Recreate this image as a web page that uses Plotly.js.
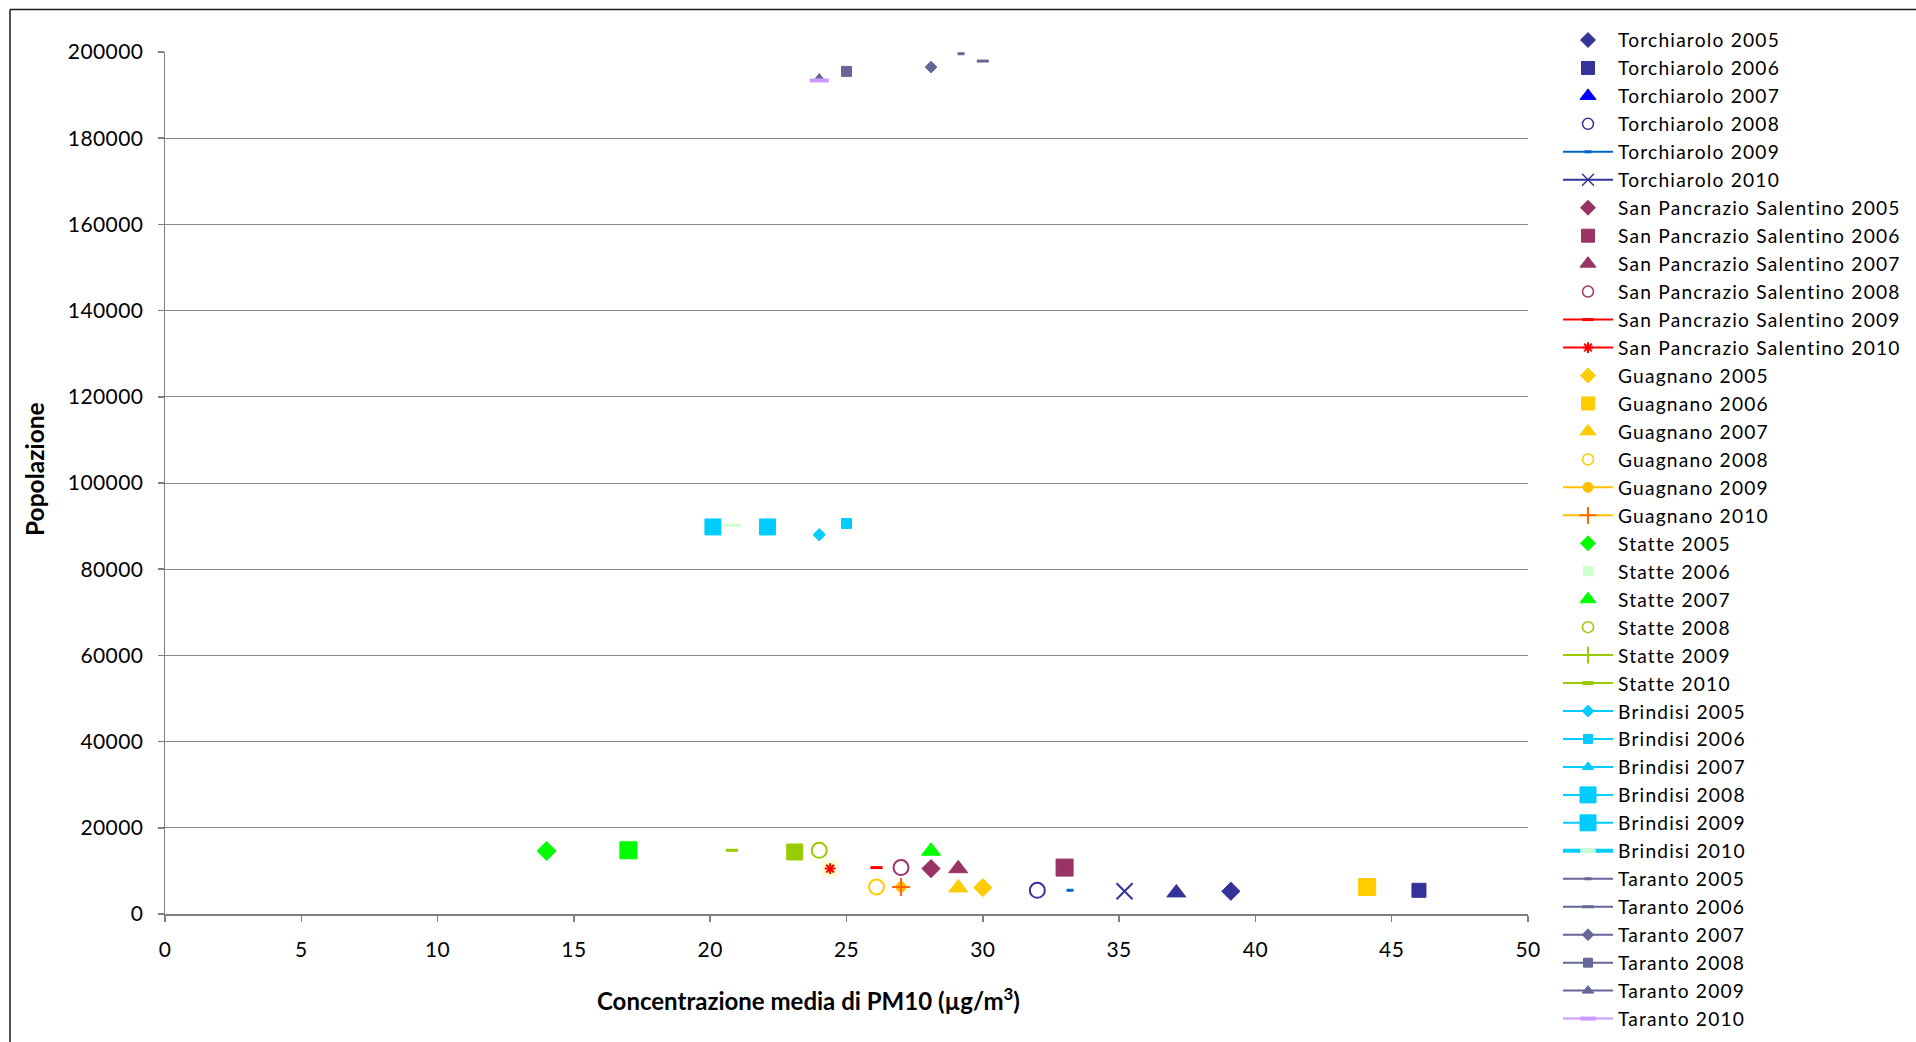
<!DOCTYPE html>
<html>
<head>
<meta charset="utf-8">
<script src="https://cdn.plot.ly/plotly-3.0.1.min.js"></script>
<style>
  html, body { margin: 0; padding: 0; background: #fff; }
  #chart { width: 1916px; height: 1042px; }
  #chart .legend .legendtext { letter-spacing: 1.2px; }
  #chart .legend .scrollbox { clip-path: none !important; }
  #chart .ytick text, #chart .xtick text { letter-spacing: 0.4px; }
</style>
</head>
<body>
<div id="chart"></div>
<script>
// ---------- DATA ----------
const series = [
  'Torchiarolo 2005', 'Torchiarolo 2006', 'Torchiarolo 2007', 'Torchiarolo 2008', 'Torchiarolo 2009', 'Torchiarolo 2010',
  'San Pancrazio Salentino 2005', 'San Pancrazio Salentino 2006', 'San Pancrazio Salentino 2007', 'San Pancrazio Salentino 2008', 'San Pancrazio Salentino 2009', 'San Pancrazio Salentino 2010',
  'Guagnano 2005', 'Guagnano 2006', 'Guagnano 2007', 'Guagnano 2008', 'Guagnano 2009', 'Guagnano 2010',
  'Statte 2005', 'Statte 2006', 'Statte 2007', 'Statte 2008', 'Statte 2009', 'Statte 2010',
  'Brindisi 2005', 'Brindisi 2006', 'Brindisi 2007', 'Brindisi 2008', 'Brindisi 2009', 'Brindisi 2010',
  'Taranto 2005', 'Taranto 2006', 'Taranto 2007', 'Taranto 2008', 'Taranto 2009', 'Taranto 2010'
];
// Concentrazione media di PM10 (µg/m3)
const pm10 = [
  39.1, 46.0, 37.1, 32.0, 33.2, 35.2,
  28.1, 33.0, 29.1, 27.0, 26.1, 24.4,
  30.0, 44.1, 29.1, 26.1, 27.0, 27.0,
  14.0, 17.0, 28.1, 24.0, 23.1, 20.8,
  24.0, 25.0, 22.1, 22.1, 20.1, 20.8,
  29.2, 30.0, 28.1, 25.0, 24.0, 24.0
];
// Popolazione
const popolazione = [
  5270, 5500, 4920, 5500, 5500, 5270,
  10530, 10770, 10530, 10770, 10770, 10530,
  6120, 6260, 6080, 6260, 6260, 6260,
  14620, 14780, 14590, 14780, 14390, 14780,
  88000, 90600, 90700, 89800, 89800, 90200,
  199600, 197900, 196500, 195500, 194100, 193400
];
const xTicks = [0, 5, 10, 15, 20, 25, 30, 35, 40, 45, 50];
const yTicks = [0, 20000, 40000, 60000, 80000, 100000, 120000, 140000, 160000, 180000, 200000];

// ---------- STYLES ----------
const T = '#333399', SP = '#993366', G = '#FFCC00', ST = '#00FF00', STL = '#99CC00', B = '#00CCFF', TA = '#666699';
// p: marker in plot, l: marker in legend, line: legend line colour
const styles = [
  {p:['diamond',T,14], l:['diamond',T,11.5]},
  {p:['square',T,14], l:['square',T,13]},
  {p:['triangle-up',T,16.5], l:['triangle-up','#0000FF',14]},
  {p:['circle-open',T,15,2], l:['circle-open',T,11,1.5]},
  {p:['line-ew-open','#0066CC',5,3], l:['line-ew-open','#0066CC',5,3], line:'#0066CC'},
  {p:['x-thin-open',T,16,2], l:['x-thin-open',T,12,1.5], line:T},

  {p:['diamond',SP,14], l:['diamond',SP,11.5]},
  {p:['square',SP,17], l:['square',SP,13]},
  {p:['triangle-up',SP,16.5], l:['triangle-up',SP,14]},
  {p:['circle-open',SP,15,2], l:['circle-open',SP,11,1.5]},
  {p:['line-ew-open','#FF0000',8.6,3], l:['line-ew-open','#FF0000',8,3], line:'#FF0000'},
  {p:['asterisk-open','#FF0000',9,2], l:['asterisk-open','#FF0000',9,2], line:'#FF0000', bg:'#FFFFCC'},

  {p:['diamond',G,14], l:['diamond',G,11.5]},
  {p:['square',G,17], l:['square',G,13]},
  {p:['triangle-up',G,16.5], l:['triangle-up',G,14]},
  {p:['circle-open',G,15,2], l:['circle-open',G,11,1.5]},
  {p:['circle','#FFC000',10], l:['circle','#FFC000',10], line:'#FFC000'},
  {p:['cross-thin-open','#FF6600',13,2], l:['cross-thin-open','#FF6600',12,2], line:'#FFC000'},

  {p:['diamond',ST,14.5], l:['diamond',ST,11.5]},
  {p:['square',ST,17], l:['square','#CCFFCC',9]},
  {p:['triangle-up',ST,16.5], l:['triangle-up',ST,14]},
  {p:['circle-open',STL,15,2], l:['circle-open',STL,11,1.5]},
  {p:['square',STL,16], l:['cross-thin-open',STL,12,2], line:STL},
  {p:['line-ew-open',STL,8.6,3], l:['line-ew-open',STL,8,4], line:STL},

  {p:['diamond',B,9.5], l:['diamond',B,9], line:B},
  {p:['square',B,10], l:['square',B,9], line:B},
  {p:['triangle-up',B,9], l:['triangle-up',B,10], line:B},
  {p:['square',B,16], l:['square',B,16], line:B},
  {p:['square',B,16], l:['square',B,16], line:B},
  {p:['line-ew-open','#CCFFCC',13,3], l:['line-ew-open','#CCFFCC',11,4], line:B, lw:4},

  {p:['line-ew-open',TA,5,3], l:['line-ew-open',TA,5,3], line:TA},
  {p:['line-ew-open',TA,8.6,3], l:['line-ew-open',TA,8,3], line:TA},
  {p:['diamond',TA,9], l:['diamond',TA,9], line:TA},
  {p:['square',TA,10], l:['square',TA,9], line:TA},
  {p:['triangle-up',TA,8], l:['triangle-up',TA,10], line:TA},
  {p:['line-ew-open','#CC99FF',13.6,4], l:['line-ew-open','#CC99FF',11,4], line:'#CC99FF'}
];

function mk(m) {
  const open = m[0].indexOf('open') >= 0;
  return {
    symbol: m[0], color: m[1], size: m[2],
    line: {color: m[1], width: open ? (m[3] || 2) : 1}
  };
}

const traces = [];
// plotted points
series.forEach((name, i) => {
  const st = styles[i];
  if (st.bg) {
    traces.push({
      type: 'scatter', mode: 'markers', x: [pm10[i]], y: [popolazione[i]],
      showlegend: false, hoverinfo: 'skip', cliponaxis: false,
      marker: {symbol: 'square', color: st.bg, size: 16, line: {width: 0}}
    });
  }
  traces.push({
    type: 'scatter', mode: 'markers', name: name,
    x: [pm10[i]], y: [popolazione[i]],
    showlegend: false, cliponaxis: false,
    marker: mk(st.p)
  });
});
// legend entries
series.forEach((name, i) => {
  const st = styles[i];
  traces.push({
    type: 'scatter', name: name,
    mode: st.line ? 'lines+markers' : 'markers',
    x: [null], y: [null],
    line: {color: st.line || '#000', width: st.lw || 2},
    marker: mk(st.l),
    hoverinfo: 'skip'
  });
});

const L = 165, R = 1528, TOP = 52, BOT = 914;
const PW = R - L, PH = BOT - TOP;
const px = v => (v - L) / PW;
const py = v => (BOT - v) / PH;

const layout = {
  width: 1916, height: 1042,
  margin: {l: L, r: 1916 - R, t: TOP, b: 1042 - BOT, pad: 0, autoexpand: false},
  paper_bgcolor: '#ffffff', plot_bgcolor: '#ffffff',
  font: {family: 'Lato, "Open Sans", sans-serif', color: '#000000', size: 21},
  showlegend: true,
  xaxis: {
    range: [0, 50], tickmode: 'array', tickvals: xTicks, ticktext: xTicks.map(String),
    showgrid: false, zeroline: false, showline: true, linecolor: '#808080', linewidth: 2,
    ticks: 'outside', ticklen: 6, tickwidth: 1.5, tickcolor: '#808080',
    tickfont: {size: 21, color: '#000'}, ticklabelstandoff: 10, fixedrange: true
  },
  yaxis: {
    range: [0, 200000], tickmode: 'array', tickvals: yTicks, ticktext: yTicks.map(String),
    showgrid: true, gridcolor: '#888888', gridwidth: 1,
    zeroline: false, showline: true, linecolor: '#808080', linewidth: 1.5,
    ticks: 'outside', ticklen: 6, tickwidth: 1.5, tickcolor: '#808080',
    tickfont: {size: 21, color: '#000'}, ticklabelstandoff: 10, fixedrange: true
  },
  legend: {
    x: px(1558), xanchor: 'left', y: py(21), yanchor: 'top',
    font: {size: 19.2, color: '#000'}, itemwidth: 50, maxheight: 1040,
    bgcolor: 'rgba(0,0,0,0)', borderwidth: 0, tracegroupgap: 0
  },
  annotations: [
    {xref: 'paper', yref: 'paper', x: px(35), y: py(469), xanchor: 'center', yanchor: 'middle',
     text: '<b>Popolazione</b>', textangle: -90, showarrow: false, font: {size: 24.5, color: '#000'}},
    {xref: 'paper', yref: 'paper', x: px(808), y: py(999), xanchor: 'center', yanchor: 'middle',
     text: '<b>Concentrazione media di PM10 (µg/m<sup>3</sup>)</b>', showarrow: false, font: {size: 24, color: '#000'}}
  ],
  shapes: [
    {type: 'line', xref: 'paper', yref: 'paper', x0: px(10), x1: px(10), y0: py(1100), y1: py(9.5),
     line: {color: '#1a1a1a', width: 1.5}},
    {type: 'line', xref: 'paper', yref: 'paper', x0: px(10), x1: px(2000), y0: py(9.5), y1: py(9.5),
     line: {color: '#1a1a1a', width: 1.5}}
  ]
};

Plotly.newPlot('chart', traces, layout, {displayModeBar: false, staticPlot: true});
</script>
</body>
</html>
